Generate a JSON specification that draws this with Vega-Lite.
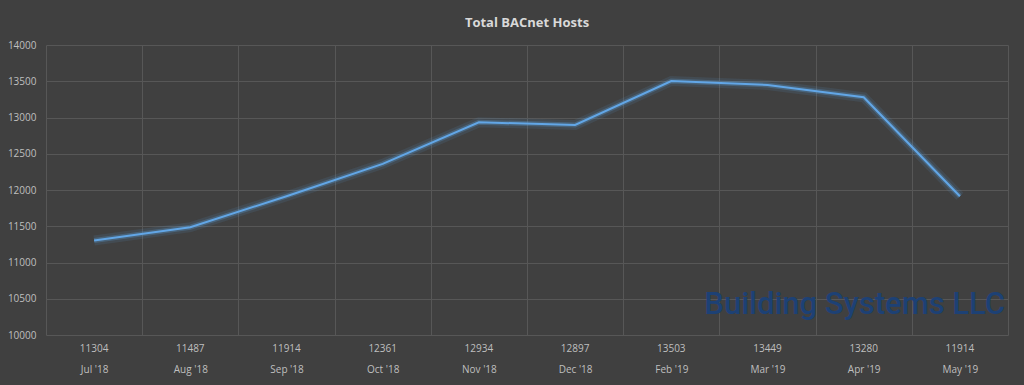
{
  "$schema": "https://vega.github.io/schema/vega-lite/v6.json",
  "width": 962,
  "height": 290,
  "autosize": {"type": "none"},
  "padding": {"left": 46, "top": 45, "right": 16, "bottom": 50},
  "background": "#404040",
  "title": {
    "text": "Total BACnet Hosts",
    "font": "Open Sans",
    "fontSize": 13,
    "fontWeight": "bold",
    "color": "#d9d9d9",
    "anchor": "middle",
    "offset": 10
  },
  "config": {
    "view": {"stroke": null},
    "axis": {"labelFont": "Open Sans", "labelColor": "#bfbfbf", "labelFontSize": 10}
  },
  "datasets": {
    "hosts": [
      {"month": "Jul '18", "hosts": 11304},
      {"month": "Aug '18", "hosts": 11487},
      {"month": "Sep '18", "hosts": 11914},
      {"month": "Oct '18", "hosts": 12361},
      {"month": "Nov '18", "hosts": 12934},
      {"month": "Dec '18", "hosts": 12897},
      {"month": "Feb '19", "hosts": 13503},
      {"month": "Mar '19", "hosts": 13449},
      {"month": "Apr '19", "hosts": 13280},
      {"month": "May '19", "hosts": 11914}
    ],
    "logo": [{"month": "Apr '19", "y": 10414, "text": "Building Systems LLC"}]
  },
  "encoding": {
    "x": {
      "field": "month",
      "type": "ordinal",
      "sort": ["Jul '18", "Aug '18", "Sep '18", "Oct '18", "Nov '18", "Dec '18", "Feb '19", "Mar '19", "Apr '19", "May '19"],
      "scale": {"paddingInner": 0, "paddingOuter": 0},
      "axis": {
        "title": null,
        "labelAngle": 0,
        "domain": false,
        "ticks": false,
        "grid": true,
        "gridColor": "#575757",
        "tickBand": "extent",
        "labelPadding": 29
      }
    },
    "y": {
      "field": "hosts",
      "type": "quantitative",
      "scale": {"domain": [10000, 14000], "zero": false},
      "axis": {
        "title": null,
        "format": "d",
        "values": [10000, 10500, 11000, 11500, 12000, 12500, 13000, 13500, 14000],
        "labelOverlap": false,
        "domain": false,
        "ticks": false,
        "grid": true,
        "gridColor": "#575757",
        "labelPadding": 10
      }
    }
  },
  "layer": [
    {
      "data": {"name": "logo"},
      "mark": {"type": "text", "font": "Roboto", "fontWeight": 500, "fontSize": 31, "color": "#1d4175", "align": "center", "baseline": "middle", "dx": -9},
      "encoding": {
        "y": {"field": "y", "type": "quantitative"},
        "text": {"field": "text"}
      }
    },
    {
      "data": {"name": "hosts"},
      "mark": {"type": "line", "color": "#5b9bd5", "strokeWidth": 10, "opacity": 0.12}
    },
    {
      "data": {"name": "hosts"},
      "mark": {"type": "line", "color": "#5b9bd5", "strokeWidth": 5, "opacity": 0.3}
    },
    {
      "data": {"name": "hosts"},
      "mark": {"type": "line", "color": "#62a6e6", "strokeWidth": 2}
    },
    {
      "data": {"name": "hosts"},
      "mark": {"type": "text", "font": "Open Sans", "fontSize": 10, "color": "#bfbfbf", "baseline": "middle"},
      "encoding": {
        "y": {"datum": 9805, "type": "quantitative"},
        "text": {"field": "hosts", "type": "quantitative", "format": "d"}
      }
    }
  ]
}
